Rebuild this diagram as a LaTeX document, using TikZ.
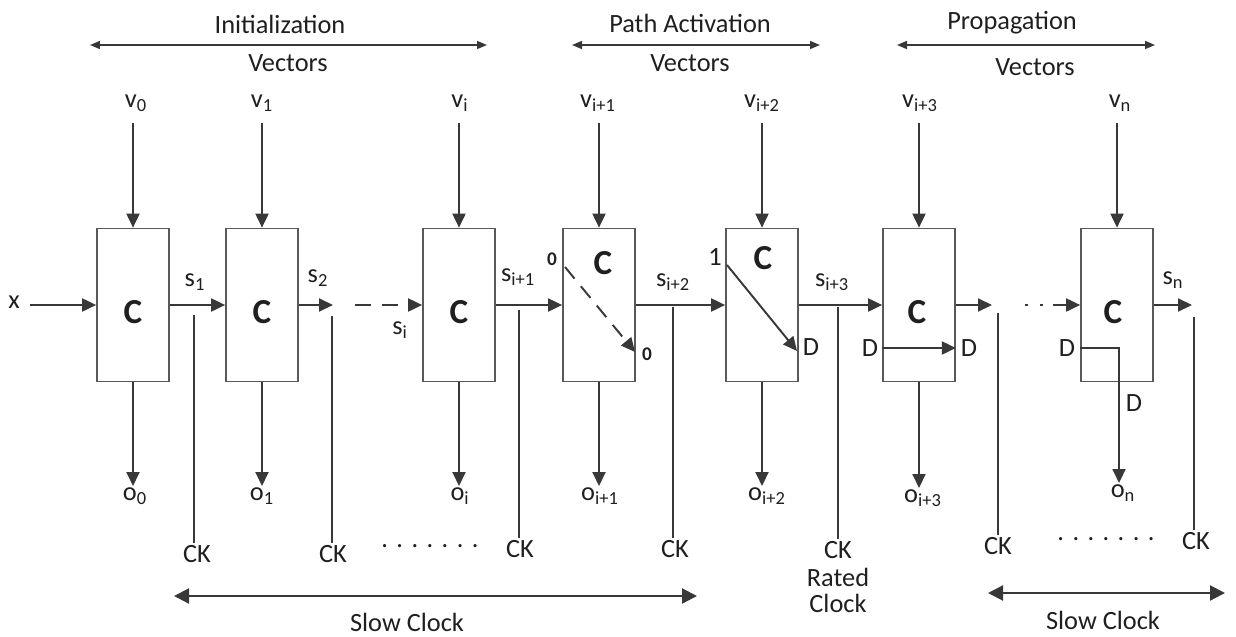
\documentclass[tikz,border=0pt]{standalone}
\usepackage{fontspec}
\setmainfont{Carlito}
\usetikzlibrary{arrows.meta,positioning}
\definecolor{Wire}{HTML}{383838}
\definecolor{Frame}{HTML}{595959}
\definecolor{Ink}{HTML}{1F1F1F}
\newcommand{\dotgap}{\kern0.32em}
\newcommand{\dotrow}{.\dotgap.\dotgap.\dotgap.\dotgap.\dotgap.\dotgap.}

\begin{document}
\begin{tikzpicture}[
  x=0.02cm,y=-0.02cm,
  cell/.style={draw=Frame,line width=1pt,minimum width=1.44cm,minimum height=3.06cm,inner sep=0pt},
  bigc/.style={font=\fontsize{20}{24}\selectfont\bfseries,text=Ink,inner sep=0pt},
  lbl/.style={font=\fontsize{15}{17}\selectfont,text=Ink,inner sep=1pt},
  tag/.style={font=\fontsize{11}{13}\selectfont\bfseries,text=Ink,inner sep=0pt},
  arr/.style={-{Triangle[length=0.28cm,width=0.26cm]},line width=1.1pt,draw=Wire},
  wire/.style={line width=1.1pt,draw=Wire},
  span/.style={{Triangle[length=0.2cm,width=0.16cm]}-{Triangle[length=0.2cm,width=0.16cm]},line width=0.9pt,draw=Wire},
  clkspan/.style={{Triangle[length=0.3cm,width=0.3cm]}-{Triangle[length=0.3cm,width=0.3cm]},line width=1.2pt,draw=Wire}
]
\useasboundingbox (0,0) rectangle (1236,636);

% top ranges
\node[lbl] (init) at (280,24) {Initialization};
\node[lbl] (initv) at (288,63) {Vectors};
\coordinate (ia) at (90,45);
\coordinate (ib) at (487,45);
\draw[span] (ia) -- (ib);
\node[lbl] (path) at (690,23) {Path Activation};
\node[lbl] (pathv) at (690,63) {Vectors};
\coordinate (pa) at (572,45);
\coordinate (pb) at (820,45);
\draw[span] (pa) -- (pb);
\node[lbl] (prop) at (1012,23) {Propagation};
\node[lbl] (propv) at (1035,67) {Vectors};
\coordinate (qa) at (897,45);
\coordinate (qb) at (1155,45);
\draw[span] (qa) -- (qb);

% cells
\node[cell] (c0) at (133,305) {};
\node[cell] (c1) at (262,305) {};
\node[cell] (ci) at (459,305) {};
\node[cell] (ci1) at (599,305) {};
\node[cell] (ci2) at (762,305) {};
\node[cell] (ci3) at (919,305) {};
\node[cell] (cn) at (1117,305) {};
\node[bigc] (k0) at (133,312) {C};
\node[bigc] (k1) at (262,312) {C};
\node[bigc] (ki) at (459,312) {C};
\node[bigc] (ki1) at (603,263) {C};
\node[bigc] (ki2) at (763,258) {C};
\node[bigc] (ki3) at (917,312) {C};
\node[bigc] (kn) at (1113,312) {C};

% vector inputs
\node[lbl] (v0) at (136,103) {v\textsubscript{0}};
\node[lbl] (v1) at (262,103) {v\textsubscript{1}};
\node[lbl] (vi) at (460,103) {v\textsubscript{i}};
\node[lbl] (vi1) at (598,103) {v\textsubscript{i+1}};
\node[lbl] (vi2) at (762,103) {v\textsubscript{i+2}};
\node[lbl] (vi3) at (920,103) {v\textsubscript{i+3}};
\node[lbl] (vn) at (1120,103) {v\textsubscript{n}};
\draw[arr,shorten <=0.2cm] (v0.south -| c0) -- (c0.north);
\draw[arr,shorten <=0.2cm] (v1.south -| c1) -- (c1.north);
\draw[arr,shorten <=0.2cm] (vi.south -| ci) -- (ci.north);
\draw[arr,shorten <=0.2cm] (vi1.south -| ci1) -- (ci1.north);
\draw[arr,shorten <=0.2cm] (vi2.south -| ci2) -- (ci2.north);
\draw[arr,shorten <=0.2cm] (vi3.south -| ci3) -- (ci3.north);
\draw[arr,shorten <=0.2cm] (vn.south -| cn) -- (cn.north);

% outputs
\node[lbl,anchor=north] (o0) at (135,486) {o\textsubscript{0}};
\node[lbl,anchor=north] (o1) at (262,486) {o\textsubscript{1}};
\node[lbl,anchor=north] (oi) at (460,486) {o\textsubscript{i}};
\node[lbl,anchor=north] (oi1) at (600,486) {o\textsubscript{i+1}};
\node[lbl,anchor=north] (oi2) at (767,486) {o\textsubscript{i+2}};
\node[lbl,anchor=north] (oi3) at (923,488) {o\textsubscript{i+3}};
\node[lbl,anchor=north] (on) at (1123,483) {o\textsubscript{n}};
\draw[arr] (c0.south) -- (c0.south |- o0.north);
\draw[arr] (c1.south) -- (c1.south |- o1.north);
\draw[arr] (ci.south) -- (ci.south |- oi.north);
\draw[arr] (ci1.south) -- (ci1.south |- oi1.north);
\draw[arr] (ci2.south) -- (ci2.south |- oi2.north);
\draw[arr] (ci3.south) -- (ci3.south |- oi3.north);

% state chain
\node[lbl] (xin) at (14,302) {x};
\draw[arr,shorten <=0.16cm] (xin.east |- c0.west) -- (c0.west);
\node[lbl] (s1) at (195,282) {s\textsubscript{1}};
\draw[arr] (c0.east) -- (c1.west);
\node[lbl] (s2) at (318,278) {s\textsubscript{2}};
\coordinate (s2end) at (333,305);
\draw[arr] (c1.east) -- (s2end);
\coordinate (dstart) at (355,305);
\draw[arr,dash pattern=on 0.32cm off 0.22cm] (dstart) -- (ci.west);
\node[lbl] (si) at (400,330) {s\textsubscript{i}};
\node[lbl] (si1) at (518,277) {s\textsubscript{i+1}};
\draw[arr] (ci.east) -- (ci1.west);
\node[lbl] (si2) at (673,282) {s\textsubscript{i+2}};
\draw[arr] (ci1.east) -- (ci2.west);
\node[lbl] (si3) at (832,282) {s\textsubscript{i+3}};
\draw[arr] (ci2.east) -- (ci3.west);
\coordinate (e1) at (992,305);
\draw[arr] (ci3.east) -- (e1);
\coordinate (e2) at (1025,305);
\coordinate (e3) at (1053,305);
\draw[wire,dash pattern=on 0.05cm off 0.25cm] (e2) -- (e3);
\draw[arr] (e3) -- (cn.west);
\node[lbl] (sn) at (1173,280) {s\textsubscript{n}};
\coordinate (snend) at (1192,305);
\draw[arr] (cn.east) -- (snend);

% path marks inside cells
\node[tag] (za) at (552,259) {0};
\node[tag] (zb) at (647,354) {0};
\coordinate (ga) at (565,267);
\coordinate (gb) at (635,352);
\draw[arr,dash pattern=on 0.3cm off 0.2cm] (ga) -- (gb);
\node[lbl] (one) at (715,257) {1};
\node[lbl] (da) at (811,347) {D};
\coordinate (ha) at (727,265);
\coordinate (hb) at (797,351);
\draw[arr] (ha) -- (hb);
\node[lbl] (dl3) at (870,348) {D};
\node[lbl] (dr3) at (969,348) {D};
\draw[arr] (ci3.west |- dl3) -- (ci3.east |- dl3);
\node[lbl] (dln) at (1067,348) {D};
\coordinate (dn) at (1119,348);
\node[lbl] (dd) at (1134,403) {D};
\draw[arr] (cn.west |- dln) -- (dn) -- (dn |- on.north);

% clocks
\node[lbl] (ck1) at (197,554) {CK};
\node[lbl] (ck2) at (333,554) {CK};
\node[lbl] (ck3) at (520,549) {CK};
\node[lbl] (ck4) at (675,549) {CK};
\node[lbl] (ck5) at (838,550) {CK};
\node[lbl] (ck6) at (998,546) {CK};
\node[lbl] (ck7) at (1196,541) {CK};
\coordinate (t1) at (194,315);
\coordinate (t2) at (332,316);
\coordinate (t3) at (519,310);
\coordinate (t4) at (673,307);
\coordinate (t5) at (838,307);
\coordinate (t6) at (998,313);
\coordinate (t7) at (1194,317);
\draw[wire] (t1) -- (t1 |- ck1.north);
\draw[wire] (t2) -- (t2 |- ck2.north);
\draw[wire] (t3) -- (t3 |- ck3.north);
\draw[wire] (t4) -- (t4 |- ck4.north);
\draw[wire] (t5) -- (t5 |- ck5.north);
\draw[wire] (t6) -- (t6 |- ck6.north);
\draw[wire] (t7) -- (t7 |- ck7.north);
\node[lbl,align=center,font=\fontsize{15}{14.8}\selectfont,below=3pt of ck5] (rated) {Rated\\Clock};
\node[lbl] (dots1) at (430,546) {\dotrow};
\node[lbl] (dots2) at (1106,539) {\dotrow};

% clock ranges
\coordinate (la) at (174,596);
\coordinate (lb) at (697,596);
\draw[clkspan] (la) -- (lb);
\node[lbl] (slow1) at (407,622) {Slow Clock};
\coordinate (ra) at (988,593);
\coordinate (rb) at (1225,593);
\draw[clkspan] (ra) -- (rb);
\node[lbl] (slow2) at (1103,620) {Slow Clock};
\end{tikzpicture}
\end{document}
